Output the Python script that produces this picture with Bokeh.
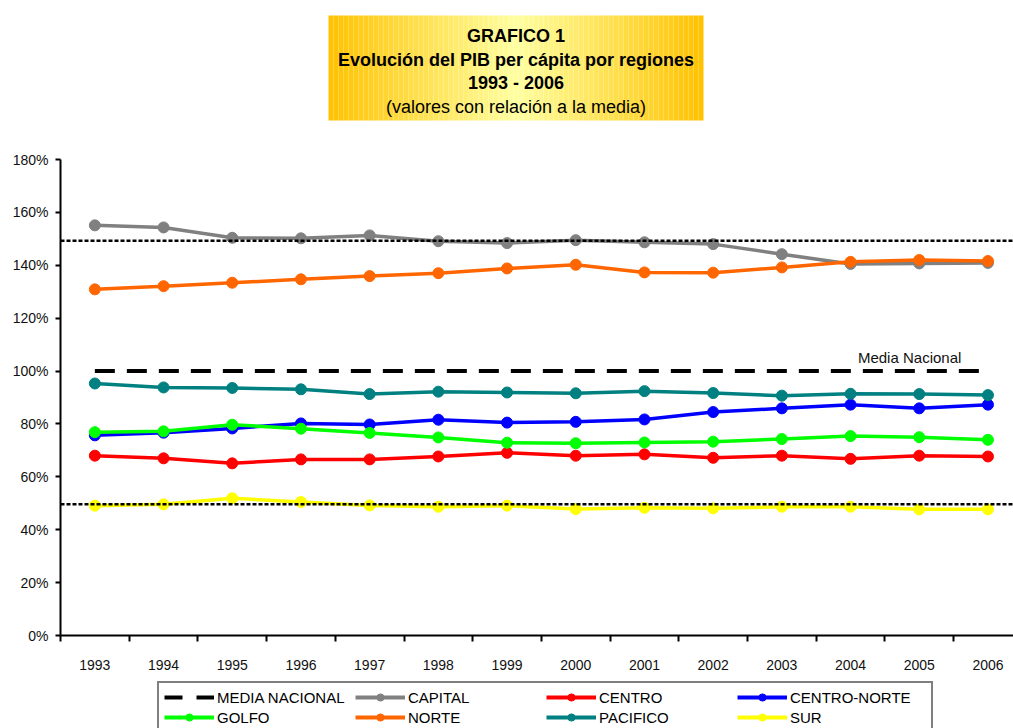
from bokeh.plotting import figure
from bokeh.layouts import column
from bokeh.models import Range1d, FixedTicker, PrintfTickFormatter, Span, Label, Legend, LegendItem
from bokeh.core.properties import value
from bokeh.embed import file_html
from bokeh.resources import INLINE

# ---------------- data ----------------
years = [1993, 1994, 1995, 1996, 1997, 1998, 1999, 2000, 2001, 2002, 2003, 2004, 2005, 2006]
year_labels = [str(y) for y in years]
media_nacional = [100] * 14
capital = [155.1, 154.3, 150.4, 150.2, 151.3, 149.1, 148.4, 149.5, 148.7, 148.0, 144.2, 140.5, 140.7, 140.9]
centro = [68.0, 67.0, 65.1, 66.6, 66.6, 67.7, 69.1, 68.0, 68.5, 67.2, 68.0, 66.8, 68.0, 67.7]
centro_norte = [75.7, 76.7, 78.3, 80.2, 79.8, 81.6, 80.5, 80.8, 81.7, 84.5, 85.9, 87.3, 85.9, 87.3]
golfo = [76.9, 77.2, 79.7, 78.2, 76.6, 74.9, 72.9, 72.7, 73.0, 73.3, 74.3, 75.4, 75.0, 74.0]
norte = [130.9, 132.1, 133.4, 134.7, 135.9, 137.0, 138.8, 140.2, 137.3, 137.2, 139.2, 141.3, 142.0, 141.6]
pacifico = [95.3, 93.8, 93.6, 93.1, 91.3, 92.2, 91.9, 91.6, 92.4, 91.7, 90.7, 91.4, 91.3, 90.9]
sur = [49.1, 49.6, 51.9, 50.5, 49.2, 48.7, 49.1, 47.8, 48.3, 48.1, 48.7, 48.7, 47.7, 47.7]

series_names = ["CAPITAL", "CENTRO", "CENTRO-NORTE", "GOLFO", "NORTE", "PACIFICO", "SUR"]
series_values = [capital, centro, centro_norte, golfo, norte, pacifico, sur]
series_colors = ["#808080", "#FF0000", "#0000FF", "#00FF00", "#FF6600", "#008080", "#FFFF00"]

band_lines = [149.3, 49.6]
y_ticks = [0, 20, 40, 60, 80, 100, 120, 140, 160, 180]

title_bold = ["GRAFICO 1", "Evolución del PIB per cápita por regiones", "1993 - 2006"]
title_normal = ["(valores con relación a la media)"]

FONT = "Liberation Sans"
W = 1013
LEFT = 60

# ---------------- title figure (page coordinates) ----------------
tf = figure(width=W, height=148, x_range=Range1d(LEFT, W), y_range=Range1d(148, 0),
            output_backend="svg", toolbar_location=None,
            min_border_left=LEFT, min_border_right=0, min_border_top=0, min_border_bottom=0,
            x_axis_location=None, y_axis_location=None)
tf.outline_line_color = None
tf.grid.grid_line_color = None

box_l, box_r, box_t, box_b = 328, 703, 15, 120
n = 75
w = (box_r - box_l) / n
lefts = [box_l + i * w for i in range(n)]
rights = [l + w for l in lefts]
cx = (box_l + box_r) / 2
half = (box_r - box_l) / 2
cols = []
for l in lefts:
    t = min(1.0, abs(l + w / 2 - cx) / half)
    g = int(round(255 + (194 - 255) * t))
    b = int(round(160 + (0 - 160) * t))
    cols.append("#%02x%02x%02x" % (255, g, b))
tf.quad(left=lefts, right=rights, top=box_t, bottom=box_b, fill_color=cols, line_color=None)

tf.text(x=[cx] * 3, y=[35, 59, 82.5], text=title_bold, text_align="center", text_baseline="middle",
        text_font=value(FONT), text_font_size="18px", text_font_style="bold", text_color="#000000")
tf.text(x=[cx], y=[106], text=title_normal, text_align="center", text_baseline="middle",
        text_font=value(FONT), text_font_size="18px", text_color="#000000")

# ---------------- main figure ----------------
p = figure(width=W, height=529, x_range=Range1d(1992.5, 1992.5 + (W - LEFT) / 68.7), y_range=Range1d(0, 180),
           output_backend="svg", toolbar_location=None,
           min_border_left=LEFT, min_border_right=0, min_border_top=11, min_border_bottom=42)
p.outline_line_color = None
p.grid.grid_line_color = None

p.yaxis.ticker = FixedTicker(ticks=y_ticks)
p.yaxis.formatter = PrintfTickFormatter(format="%d%%")
p.yaxis.major_tick_out = 5
p.yaxis.major_tick_in = 0
p.yaxis.minor_tick_line_color = None
p.yaxis.major_label_standoff = 7
p.yaxis.axis_line_width = 2
p.yaxis.major_tick_line_width = 2

p.xaxis.ticker = FixedTicker(ticks=years, minor_ticks=[y - 0.5 for y in years] + [years[-1] + 0.5])
p.xaxis.major_label_overrides = {y: lab for y, lab in zip(years, year_labels)}
p.xaxis.major_tick_line_color = None
p.xaxis.major_tick_out = 0
p.xaxis.major_tick_in = 0
p.xaxis.minor_tick_out = 6
p.xaxis.minor_tick_in = 0
p.xaxis.minor_tick_line_width = 2
p.xaxis.minor_tick_line_color = "black"
p.xaxis.major_label_standoff = 18
p.xaxis.axis_line_width = 2

for ax in (p.xaxis, p.yaxis):
    ax.major_label_text_font = FONT
    ax.major_label_text_font_size = "14px"
    ax.major_label_text_color = "#111111"
    ax.axis_line_color = "black"

p.line(years, media_nacional, line_color="black", line_width=4, line_dash="20 12")

for vals, col in zip(series_values, series_colors):
    p.line(years, vals, line_color=col, line_width=3.5)
    p.scatter(years, vals, marker="circle", size=11, fill_color=col, line_color=col)

for v in band_lines:
    p.add_layout(Span(location=v, dimension="width", line_color="black", line_width=2.5, line_dash="4 2"))

p.add_layout(Label(x=2004.86, y=100, text="Media Nacional", text_align="center", text_baseline="bottom",
                   y_offset=5, text_font=FONT, text_font_size="15px", text_color="#111111"))

# ---------------- legend figure (series lie outside its 0..1 ranges, only legend shows) ----------------
lf = figure(width=W, height=51, x_range=Range1d(0, 1), y_range=Range1d(0, 1),
            output_backend="svg", toolbar_location=None,
            min_border_left=LEFT, min_border_right=0, min_border_top=0, min_border_bottom=0,
            x_axis_location=None, y_axis_location=None)
lf.outline_line_color = None
lf.grid.grid_line_color = None

items = []
r_media = lf.line(years, media_nacional, line_color="black", line_width=4, line_dash="18 14")
items.append(LegendItem(label="MEDIA NACIONAL", renderers=[r_media]))
for name, vals, col in zip(series_names, series_values, series_colors):
    ln = lf.line(years, vals, line_color=col, line_width=4)
    sc = lf.scatter(years, vals, marker="circle", size=11, fill_color=col, line_color=col)
    items.append(LegendItem(label=name, renderers=[ln, sc]))

legend = Legend(items=items, orientation="horizontal", ncols=4, location=(97, -5),
                label_text_font=FONT, label_text_font_size="15px", label_text_color="#000000",
                glyph_width=50, glyph_height=18, label_height=18, label_width=136,
                label_standoff=3, spacing=2, padding=5, margin=0,
                border_line_color="black", border_line_width=2, background_fill_color="white",
                background_fill_alpha=1)
lf.add_layout(legend, "center")

layout = column(tf, p, lf, spacing=0)
open("out.html", "w").write(file_html(layout, INLINE))
